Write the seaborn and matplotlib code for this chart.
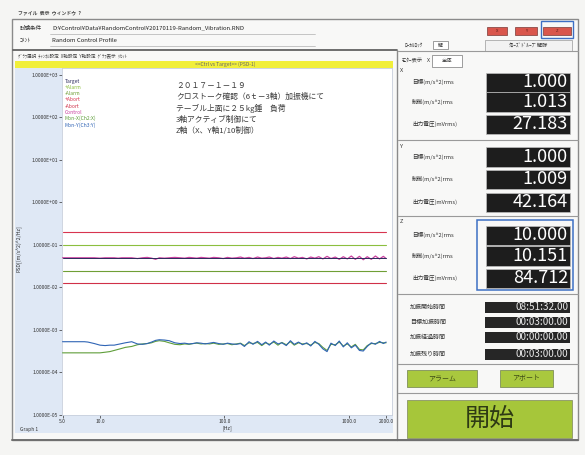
import numpy as np
import pandas as pd
import seaborn as sns
import matplotlib.pyplot as plt
from matplotlib.patches import Rectangle
from matplotlib.lines import Line2D

# frequency points (Hz)
freq_hz = [5.0, 5.5, 6.0, 6.5, 7.0, 7.5, 8.0, 9.0, 10, 11,
           12, 13, 14, 15, 16, 18, 20, 22, 24, 26,
           28, 30, 33, 36, 40, 44, 48, 52, 56, 60,
           65, 70, 76, 82, 90, 98, 106, 115, 125, 135,
           145, 158, 170, 185, 200, 215, 230, 250, 270, 290,
           315, 340, 365, 395, 425, 460, 495, 535, 575, 620,
           670, 720, 780, 840, 905, 975, 1050, 1130, 1220, 1310,
           1410, 1520, 1640, 1770, 1900, 2000]

# Z control PSD, x1e-2 (m/s^2)^2/Hz
z_ctrl_e2 = [5.0, 5.0, 5.0, 5.0, 5.0, 5.0, 5.0, 5.0, 4.9, 5.0,
             5.0, 5.0, 4.9, 5.0, 5.0, 5.0, 4.8, 5.0, 5.1, 4.9,
             4.6, 5.0, 4.9, 5.0, 5.1, 5.0, 4.9, 5.1, 5.0, 4.9,
             5.1, 5.0, 4.9, 5.1, 5.0, 4.8, 5.1, 4.9, 5.0, 5.2,
             4.9, 5.1, 4.8, 5.2, 4.9, 5.0, 5.2, 4.8, 5.1, 4.9,
             5.2, 4.8, 5.3, 4.9, 5.1, 4.7, 5.2, 4.9, 5.3, 4.7,
             5.4, 4.8, 5.2, 4.6, 5.3, 4.7, 5.5, 4.6, 5.4, 4.5,
             5.3, 4.6, 5.5, 4.7, 5.4, 4.8]

# X monitor PSD, x1e-4
x_mon_e4 = [2.9, 2.9, 2.9, 2.9, 2.9, 2.9, 2.9, 2.9, 2.9, 3.0,
            3.1, 3.3, 3.5, 3.7, 3.9, 4.1, 4.5, 4.7, 4.8, 5.0,
            5.4, 5.6, 5.4, 5.0, 4.6, 4.5, 4.7, 4.6, 4.8, 4.9,
            4.7, 4.8, 4.7, 4.9, 4.6, 4.7, 4.8, 4.5, 4.7, 4.9,
            4.3, 5.0, 4.8, 5.1, 4.3, 5.0, 4.6, 5.2, 4.4, 5.1,
            4.5, 5.3, 4.4, 5.0, 4.7, 4.8, 4.4, 5.1, 4.8, 3.9,
            3.3, 4.6, 4.5, 5.2, 4.2, 4.7, 4.0, 4.6, 3.5, 3.4,
            4.3, 4.8, 4.8, 5.1, 5.0, 5.0]

# Y monitor PSD, x1e-4
y_mon_e4 = [5.3, 5.3, 5.3, 5.3, 5.3, 5.3, 5.2, 4.8, 4.4, 4.3,
            4.4, 4.4, 4.6, 4.8, 5.0, 5.3, 4.7, 4.6, 4.8, 5.2,
            5.7, 5.9, 5.8, 5.6, 5.0, 4.8, 4.9, 4.7, 4.8, 5.0,
            4.9, 4.7, 4.9, 5.1, 4.8, 4.6, 4.9, 4.7, 4.6, 4.8,
            4.1, 5.3, 4.6, 5.4, 4.5, 5.2, 4.4, 5.5, 4.7, 5.0,
            4.3, 5.6, 4.6, 5.2, 4.5, 5.0, 4.2, 5.4, 4.6, 3.6,
            3.1, 4.9, 4.3, 5.5, 4.0, 5.0, 3.8, 4.4, 3.3, 3.2,
            4.1, 5.0, 4.6, 5.4, 4.8, 5.2]

# reference profile (flat) and tolerance lines
profile_hz = [5, 2000]
target_psd = [0.05, 0.05]
alarm_hi = [0.1, 0.1]
alarm_lo = [0.025, 0.025]
abort_hi = [0.2, 0.2]
abort_lo = [0.0125, 0.0125]

legend_labels = ['Target', '+Alarm', '-Alarm', '+Abort', '-Abort', 'Control',
                 'Mon-X(Ch2:X)', 'Mon-Y(Ch3:Y)']

y_ticks = [1e3, 1e2, 1e1, 1e0, 1e-1, 1e-2, 1e-3, 1e-4, 1e-5]
x_ticks = [5, 10, 100, 1000, 2000]
x_tick_labels = ['5.0', '10.0', '100.0', '1000.0', '2000.0']

note_lines = ['２０１７－１－１９',
              'クロストーク確認（6ｔ－3軸）加振機にて',
              'テーブル上面に２５kg錘　負荷',
              '3軸アクティブ制御にて',
              'Z軸（X、Y軸1/10制御）']

monitor_groups = ['X', 'Y', 'Z']
monitor_labels = ['目標(m/s^2)rms', '制御(m/s^2)rms', '出力電圧(mVrms)']
monitor_values = [['1.000', '1.013', '27.183'],
                  ['1.000', '1.009', '42.164'],
                  ['10.000', '10.151', '84.712']]
time_labels = ['加振開始時間', '目標加振時間', '加振経過時間', '加振残り時間']
time_values = ['08:51:32.00', '00:03:00.00', '00:00:00.00', '00:03:00.00']

sns.set_theme(style="white")
plt.rcParams['font.family'] = ['Noto Sans CJK JP', 'DejaVu Sans']

W, H = 585, 455
fig = plt.figure(figsize=(W / 100, H / 100), dpi=100)
fig.patch.set_facecolor('#f5f5f3')


def fx(x):
    return x / W


def fy(y):
    return 1 - y / H


def box(x0, y0, x1, y1, fc, ec='none', lw=0.6, z=-5):
    r = Rectangle((fx(x0), fy(y1)), fx(x1) - fx(x0), fy(y0) - fy(y1),
                  transform=fig.transFigure, facecolor=fc, edgecolor=ec,
                  linewidth=lw, zorder=z)
    fig.add_artist(r)


def hline(y, x0, x1, color='#9a9a9a', lw=0.8):
    fig.add_artist(Line2D([fx(x0), fx(x1)], [fy(y), fy(y)], transform=fig.transFigure,
                          color=color, linewidth=lw, zorder=-4))


def txt(x, y, s, size=4.5, color='#333333', ha='left', **kw):
    fig.text(fx(x), fy(y), s, fontsize=size, color=color, ha=ha, va='center', **kw)


# window frame
box(12, 19, 578, 440, '#f8f8f7', ec='#8a8a8a', lw=1.0, z=-8)
txt(18, 13, 'ファイル  表示  ウィンドウ  ?', size=3.5, color='#444444', fontweight='bold')
txt(20, 28, '試験条件', size=4)
txt(52, 28, 'D:¥Control¥Data¥RandomControl¥20170119-Random_Vibration.RND', size=4.3, color='#222222')
hline(34, 50, 315, color='#b0b0b0', lw=0.5)
txt(20, 40, 'ｺﾒﾝﾄ', size=4)
txt(52, 40, 'Random Control Profile', size=4.3, color='#222222')
hline(46, 50, 315, color='#b0b0b0', lw=0.5)

# chart panel
hline(50, 13, 397, color='#555555', lw=1.2)
txt(18, 56, 'ｸﾞﾗﾌ選択  ﾁｬﾝﾈﾙ設定  X軸設定  Y軸設定  ｸﾞﾗﾌ表示  ﾘｾｯﾄ', size=3.3, color='#444444')
box(15, 61, 393, 68, '#f1ef3a')
txt(225, 64.5, '<<Ctrl vs Target>> (PSD-1)', size=3.6, color='#666666', ha='center')
box(15, 68, 62, 433, '#dfe8f5')
box(15, 415, 393, 433, '#dfe8f5')
txt(20, 430, 'Graph 1', size=3.5, color='#333333')

ax = fig.add_axes([fx(62), fy(415), fx(392) - fx(62), fy(68) - fy(415)])
ax.set_facecolor('white')

colors = ['#2b2a5c', '#8cbf3f', '#6f9f36', '#d8344f', '#d03048', '#c9409f', '#5f9e3a', '#2f64b5']
series = [(profile_hz, target_psd, 6, 0.7),
          (profile_hz, alarm_hi, 3, 0.8),
          (profile_hz, alarm_lo, 3, 0.8),
          (profile_hz, abort_hi, 3, 0.8),
          (profile_hz, abort_lo, 3, 0.8),
          (freq_hz, np.array(z_ctrl_e2) * 1e-2, 5, 0.9),
          (freq_hz, np.array(x_mon_e4) * 1e-4, 4, 0.8),
          (freq_hz, np.array(y_mon_e4) * 1e-4, 5, 0.8)]
for (xs, ys, z, lw), c, lab in zip(series, colors, legend_labels):
    df = pd.DataFrame({'Freq': xs, 'PSD': ys})
    sns.lineplot(data=df, x='Freq', y='PSD', ax=ax, color=c, linewidth=lw,
                 label=lab, zorder=z)

ax.set_xscale('log')
ax.set_yscale('log')
ax.set_xlim(4.95, 2230)
ax.set_ylim(1e-5, 1460)
ax.set_yticks(y_ticks)
ax.set_yticklabels([f'{v:.4E}' for v in y_ticks])
ax.set_xticks(x_ticks)
ax.set_xticklabels(x_tick_labels)
ax.minorticks_off()
ax.tick_params(left=True, bottom=True, length=2, width=0.5, pad=1,
               labelsize=3.6, colors='#333333')
ax.set_xlabel('[Hz]', fontsize=3.8, labelpad=0.5, color='#333333')
ax.set_ylabel('PSD[(m/s^2)^2/Hz]', fontsize=3.8, color='#333333')
ax.yaxis.set_label_coords(-0.121, 0.48)
for s in ax.spines.values():
    s.set_color('#c8cfdc')
    s.set_linewidth(0.6)

ax.legend(loc='upper left', bbox_to_anchor=(fx(62), fy(76)), bbox_transform=fig.transFigure,
          frameon=False, handlelength=0, handletextpad=0, fontsize=3.6,
          labelspacing=0.25, borderpad=0, labelcolor='linecolor')

for i, line in enumerate(note_lines):
    txt(176, 86 + i * 11.2, line, size=5.6, color='#3a3a3a')

# right-hand control panel
fig.add_artist(Line2D([fx(397), fx(397)], [fy(50), fy(440)], transform=fig.transFigure,
                      color='#8a8a8a', linewidth=1.0, zorder=-4))
box(541, 21, 573, 38, 'none', ec='#3d6fc4', lw=1.0)
for (x0, x1), a in zip([(487, 507), (515, 537), (543, 571)], monitor_groups):
    box(x0, 27, x1, 35, '#d9564c', ec='#7a3a36', lw=0.5)
    txt((x0 + x1) / 2, 31, a, size=3, color='#5a1f1a', ha='center')
txt(405, 45, 'ﾛｰｶﾙﾛｯｸ', size=3.8)
box(433, 41, 448, 49, 'white', ec='#777777', lw=0.5)
txt(440.5, 45, '解', size=3.5, ha='center')
box(485, 40, 572, 51, '#f2f2f2', ec='#9a9a9a', lw=0.5)
txt(528, 45.5, 'ｸﾛｰｽﾞﾄﾞﾙｰﾌﾟ解除', size=3.8, ha='center')
hline(51, 398, 578)
txt(402, 61, 'ﾓﾆﾀｰ表示', size=3.8)
txt(427, 61, 'X', size=3.8)
box(432, 55, 462, 67, 'white', ec='#777777', lw=0.5)
txt(447, 61, '全体', size=3.8, ha='center')

group_tops = [71, 146, 221]
row_centers = [[82, 102, 124], [157, 179, 202], [235, 256, 278]]
for g, top, rows, vals in zip(monitor_groups, group_tops, row_centers, monitor_values):
    txt(400, top, g, size=4)
    for yc, lab, v in zip(rows, monitor_labels, vals):
        txt(412, yc, lab, size=4.1)
        box(486, yc - 9.5, 570, yc + 9.5, '#1d1d1d', ec='#bdbdbd', lw=0.5)
        txt(568, yc, v, size=13, color='white', ha='right')
hline(140, 398, 578)
hline(216, 398, 578)
box(477, 220, 573, 290, 'none', ec='#3d6fc4', lw=1.1, z=5)
hline(294, 398, 578)

for yc, lab, v in zip([307, 322, 337, 354], time_labels, time_values):
    txt(410, yc, lab, size=4.3)
    box(485, yc - 5.5, 570, yc + 5.5, '#262626')
    txt(568, yc, v, size=7.2, color='#e6e6e6', ha='right')
hline(364, 398, 578)

box(407, 370, 477, 387, '#a9c83e', ec='#7f8f5a', lw=0.6)
txt(442, 378.5, 'アラーム', size=5, color='#3d4a16', ha='center')
box(500, 370, 553, 387, '#a9c83e', ec='#7f8f5a', lw=0.6)
txt(526.5, 378.5, 'アボート', size=5, color='#3d4a16', ha='center')
hline(393, 398, 578)
box(407, 400, 572, 438, '#a6c63a', ec='#8a9466', lw=0.6)
txt(489.5, 419, '開始', size=18, color='#2e3a14', ha='center')

hline(440, 12, 578, color='#6f6f6f', lw=1.4)

plt.savefig('out.png', dpi=100, facecolor=fig.get_facecolor())
